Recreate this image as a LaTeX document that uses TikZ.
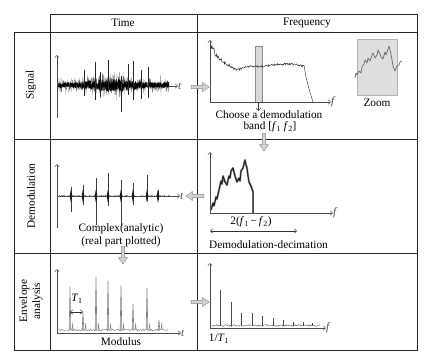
\documentclass[tikz,border=0pt]{standalone}
\usepackage{fontspec}
\setmainfont{Liberation Serif}
\usetikzlibrary{shapes.arrows,arrows.meta}
\tikzset{
  cellline/.style={line width=0.7pt,black!85},
  axisline/.style={-{Straight Barb[length=2.6pt,width=4.6pt]},line width=0.45pt,black!70},
  twoway/.style={{Straight Barb[length=2.6pt,width=4.6pt]}-{Straight Barb[length=2.6pt,width=4.6pt]},line width=0.45pt,black!80},
  flowarrow/.style={single arrow,draw=black!45,fill=black!18,line width=0.4pt,minimum height=18pt,single arrow head extend=3pt,single arrow tip angle=70,inner sep=1.4pt},
  lbl/.style={font=\fontsize{11.3}{13}\selectfont,inner sep=1pt},
  grayband/.style={draw=black!45,fill=black!15,inner sep=0pt},
}
\begin{document}
\begin{tikzpicture}[x=1pt,y=-1pt]
\pgfmathsetseed{11}
\useasboundingbox (0,0) rectangle (430,358);
\draw[cellline] (50,14) rectangle (417,32);
\draw[cellline] (14,32) rectangle (417,350);
\draw[cellline] (197,14) -- (197,350);
\draw[cellline] (50,32) -- (50,350);
\draw[cellline] (14,139) -- (417,139);
\draw[cellline] (14,253) -- (417,253);
\node[lbl] (timehead) at (123,23) {Time};
\node[lbl] (freqhead) at (307,23) {Frequency};
\node[lbl,rotate=90] (sigrow) at (31,85) {Signal};
\node[lbl,rotate=90] (demrow) at (31,196) {Demodulation};
\node[lbl,rotate=90,align=center] (envrow) at (31,301) {Envelope\\analysis};

\draw[axisline] (57,118) -- (57,55);
\draw[axisline] (57,86) -- (178,86) node[right=-1pt,lbl]{\textit{t}};
\draw[black!55,line width=0.3pt] plot[domain=58:169,samples=500] (\x,{85+(7+3*sin(4*\x))*rand+15*rand*rand*rand});
\draw[black,line width=0.4pt] plot[domain=58:169,samples=900] (\x,{85+(4.5+2*sin(4*\x))*rand});
\foreach \px/\up/\dn in {95/62/100,108/60/92,121/76/112,128/64/95,133/61/100,84/70/96,148/67/98,100/72/97,141/70/99}
  \draw[black!85,line width=0.35pt] (\px,\up) -- (\px,\dn);

\node[grayband,minimum width=7pt,minimum height=56pt] (band) at (258.5,74) {};
\draw[axisline] (210,102) -- (210,40);
\draw[axisline] (210,102) -- (331,102) node[right=-1pt,lbl]{\textit{f}};
\draw[black!80,line width=0.45pt] plot[domain=211:304,samples=180] (\x,{67-22*exp(-(\x-211)/9)+4*exp(-(\x-236)*(\x-236)/49)-3*exp(-(\x-285)*(\x-285)/400)+(1+3*exp(-(\x-211)/10))*rand}) -- (306,77) -- (309,89) -- (313,102);
\coordinate (bandtip) at (258.5,111);
\draw[axisline,black!80] (band.south) -- (bandtip);
\node[lbl] (choose) at (269,115) {Choose a demodulation};
\node[lbl] (bandtxt) at (270,127) {band [\textit{f}\textsubscript{1}\ \textit{f}\textsubscript{2}]};
\node[grayband,draw=black!30,fill=black!13,minimum width=40pt,minimum height=56pt] (zoombox) at (377,67) {};
\draw[black!55,line width=0.8pt,line join=round] (355,78) -- (356,73) -- (357,75) -- (359,71) -- (361,73) -- (362,67) -- (364,64) -- (365,60) -- (367,63) -- (368,58) -- (370,61) -- (372,55) -- (373,53) -- (375,58) -- (377,55) -- (378,50) -- (380,54) -- (381,57) -- (383,59) -- (385,52) -- (386,55) -- (388,49) -- (389,46) -- (391,54) -- (392,60) -- (393,66) -- (395,71) -- (397,66) -- (399,65) -- (400,62) -- (402,61);
\node[lbl] (zoomtxt) at (377,103) {Zoom};

\node[flowarrow] (arrsig) at (199,87) {};
\node[flowarrow,rotate=-90] (arrband) at (264,141) {};
\node[flowarrow,rotate=180] (arrdem) at (196,196) {};
\node[flowarrow,rotate=-90] (arrmod) at (123,254) {};
\node[flowarrow] (arrenv) at (199,302) {};

\draw[axisline] (57,228) -- (57,164);
\draw[axisline] (57,196) -- (180,196) node[right=-1pt,lbl]{\textit{t}};
\draw[black!70,line width=0.3pt] plot[domain=58:170,samples=160] (\x,{196+0.9*rand});
\foreach \px/\up/\dn in {71/187/212,83/185/205,96/178/225,108/173/206,121/180/225,133/183/205,147/175/201,158/190/200} {
  \draw[black!75,line width=0.3pt] (\px,\up) -- (\px,\dn);
  \fill[black!90] (\px,189) -- ({\px+1.3},196) -- (\px,203) -- ({\px-1.3},196) -- cycle;
}
\node[lbl] (complex) at (121,229) {Complex(analytic)};
\node[lbl] (realpart) at (121,242) {(real part plotted)};

\draw[axisline] (210,213) -- (210,152);
\draw[axisline] (210,213) -- (333,213) node[right=-1pt,lbl]{\textit{f}};
\foreach \wd/\cl in {1.9pt/black!55,0.5pt/black}
  \draw[line width=\wd,\cl,line join=round] (211,210) -- (213,203) -- (214,206) -- (216,197) -- (217,199) -- (219,190) -- (221,181) -- (222,184) -- (223,176) -- (225,182) -- (227,185) -- (228,180) -- (229,176) -- (230,178) -- (231,171) -- (233,168) -- (234,172) -- (235,176) -- (237,182) -- (239,178) -- (240,181) -- (241,171) -- (243,168) -- (244,164) -- (245,160) -- (246,165) -- (247,168) -- (248,176) -- (249,182) -- (251,186) -- (253,192) -- (253,213);
\node[lbl] (twoband) at (251,222) {2(\textit{f}\textsubscript{1}\,−\,\textit{f}\textsubscript{2})};
\coordinate (decL) at (210,231);
\coordinate (decR) at (297,231);
\draw[twoway] (decL) -- (decR);
\node[lbl,anchor=west] (decim) at (208,245) {Demodulation-decimation};

\draw[axisline] (57,333) -- (57,269);
\draw[axisline] (57,333) -- (181,333) node[right=-1pt,lbl]{\textit{t}};
\draw[black!60,line width=0.3pt] plot[domain=58:168,samples=130] (\x,{330+1*rand});
\foreach \px/\pk in {70/287,83/313,96/277,108/281,121/286,133/304,147/288,159/320} {
  \draw[black!50,line width=0.6pt,line join=round] ({\px-0.8},330) -- (\px,\pk) -- ({\px+0.8},330);
  \draw[black!55,line width=0.4pt] ({\px+2},330) -- ({\px+2.6},324) -- ({\px+3.3},330);
}
\node[lbl] (period) at (77,299) {\textit{T}\textsubscript{1}};
\coordinate (perL) at (70,312);
\coordinate (perR) at (83,312);
\draw[twoway] (perL) -- (perR);
\node[lbl] (modulus) at (121,342) {Modulus};

\draw[axisline] (210,328) -- (210,263);
\draw[axisline] (210,328) -- (326,328) node[right=-1pt,lbl]{\textit{f}};
\draw[black!70,line width=0.35pt] plot[domain=211:320,samples=140] (\x,{325.5+0.9*rand});
\foreach \px/\pk in {220/290,231/302,241/313,252/313,262/316,273/318,283/320,293/322,303/322,312/323}
  \draw[black!70,line width=0.5pt] (\px,326) -- (\px,\pk);
\node[lbl] (inverse) at (219,339) {1/\textit{T}\textsubscript{1}};
\end{tikzpicture}
\end{document}
